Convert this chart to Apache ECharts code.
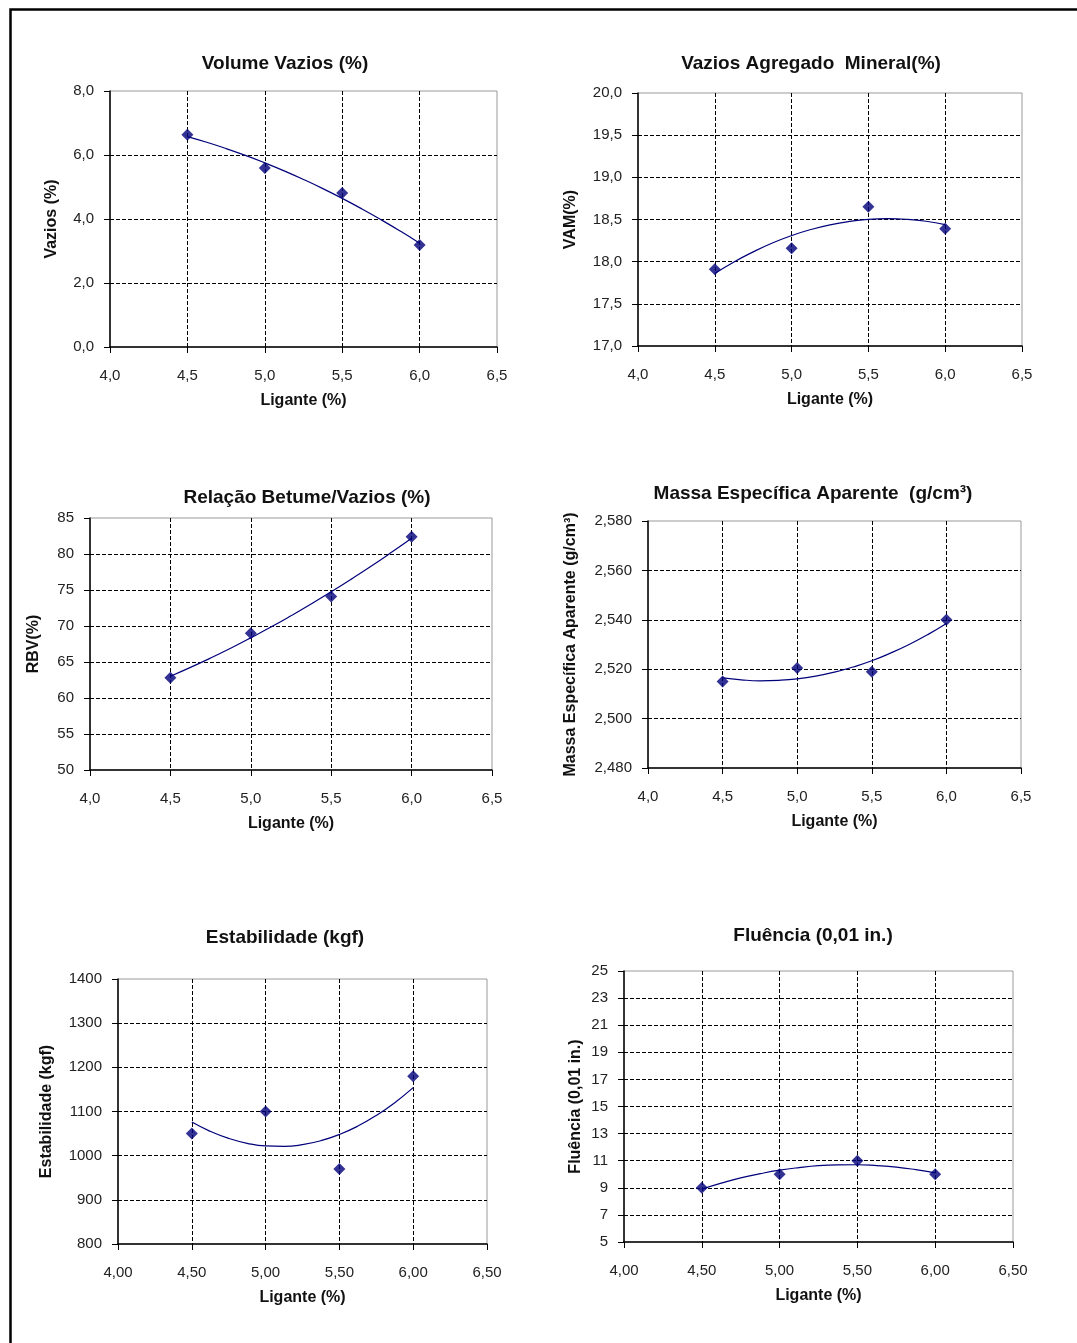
<!DOCTYPE html>
<html>
<head>
<meta charset="utf-8">
<script src="https://cdn.jsdelivr.net/npm/echarts@6/dist/echarts.min.js"></script>
<style>
	body{margin:0;background:#fff;}
	#main{width:1077px;height:1343px;}
</style>
</head>
<body>
<div id="main"></div>
<script>
	// teor de ligante (%) - eixo x de todos os graficos
	var ligante = [4.5, 5.0, 5.5, 6.0];
	// pontos da linha de tendencia
	var trendX = [4.5, 4.625, 4.75, 4.875, 5.0, 5.125, 5.25, 5.375, 5.5, 5.625, 5.75, 5.875, 6.0];

	// Volume Vazios
	var vazios = [6.63, 5.59, 4.81, 3.19];
	var vaziosTrend = [6.575, 6.397, 6.201, 5.987, 5.755, 5.505, 5.236, 4.950, 4.645, 4.322, 3.981, 3.622, 3.245];
	// Vazios Agregado Mineral
	var vam = [17.91, 18.16, 18.65, 18.39];
	var vamTrend = [17.861, 17.997, 18.116, 18.221, 18.309, 18.381, 18.437, 18.477, 18.502, 18.510, 18.502, 18.479, 18.440];
	// Relacao Betume/Vazios
	var rbv = [62.8, 69.0, 74.1, 82.4];
	var rbvTrend = [63.02, 64.25, 65.55, 66.92, 68.36, 69.85, 71.42, 73.05, 74.75, 76.51, 78.33, 80.23, 82.19];
	// Massa Especifica Aparente
	var massa = [2.515, 2.5205, 2.519, 2.540];
	var massaTrend = [2.5165, 2.5157, 2.5153, 2.5155, 2.5161, 2.5172, 2.5188, 2.5209, 2.5234, 2.5265, 2.5300, 2.5340, 2.5385];
	// Estabilidade
	var estab = [1050, 1100, 970, 1180];
	var estabTrend = [1076, 1055, 1039, 1028, 1022, 1021, 1025, 1034, 1048, 1067, 1091, 1120, 1154];
	// Fluencia
	var fluencia = [9, 10, 11, 10];
	var fluenciaTrend = [8.9, 9.34, 9.73, 10.04, 10.3, 10.49, 10.63, 10.69, 10.7, 10.64, 10.53, 10.34, 10.1];

	var panels = [
		{title:'Volume Vazios (%)', tx:280, ty:49, yName:'Vazios (%)', yGap:50,
		 grid:{left:110, top:91, width:387, height:256}, yMin:0, yMax:8, yInt:2, yDec:1, xDec:1,
		 pts:vazios, trend:vaziosTrend},
		{title:'Vazios Agregado  Mineral(%)', tx:806, ty:49, yName:'VAM(%)', yGap:59,
		 grid:{left:638, top:93, width:384, height:253}, yMin:17, yMax:20, yInt:0.5, yDec:1, xDec:1,
		 pts:vam, trend:vamTrend},
		{title:'Relação Betume/Vazios (%)', tx:302, ty:483, yName:'RBV(%)', yGap:48,
		 grid:{left:90, top:518, width:402, height:252}, yMin:50, yMax:85, yInt:5, yDec:0, xDec:1,
		 pts:rbv, trend:rbvTrend},
		{title:'Massa Específica Aparente  (g/cm³)', tx:808, ty:479, yName:'Massa Específica Aparente (g/cm³)', yGap:69,
		 grid:{left:648, top:521, width:373, height:247}, yMin:2.48, yMax:2.58, yInt:0.02, yDec:3, xDec:1,
		 pts:massa, trend:massaTrend},
		{title:'Estabilidade (kgf)', tx:280, ty:923, yName:'Estabilidade (kgf)', yGap:63,
		 grid:{left:118, top:979, width:369, height:265}, yMin:800, yMax:1400, yInt:100, yDec:0, xDec:2,
		 pts:estab, trend:estabTrend},
		{title:'Fluência (0,01 in.)', tx:808, ty:921, yName:'Fluência (0,01 in.)', yGap:40,
		 grid:{left:624, top:971, width:389, height:271}, yMin:5, yMax:25, yInt:2, yDec:0, xDec:2,
		 pts:fluencia, trend:fluenciaTrend}
	];

	function fmt(v, d){
		return v.toFixed(d).replace('.', ',');
	}

	var font = 'Liberation Sans, Arial, sans-serif';
	var navy = '#00007a';
	var option = {
		backgroundColor:'#fff',
		animation:false,
		title:[], grid:[], xAxis:[], yAxis:[], series:[],
		graphic:[{
			type:'rect', left:8, top:7,
			shape:{width:1100, height:1400},
			style:{fill:'none', stroke:'#000', lineWidth:2.5}
		}]
	};

	panels.forEach(function(p, i){
		option.title.push({
			text:p.title, left:p.tx, top:p.ty, textAlign:'center',
			textStyle:{fontFamily:font, fontSize:19, fontWeight:'bold', color:'#111'}
		});
		option.grid.push({
			left:p.grid.left, top:p.grid.top, width:p.grid.width, height:p.grid.height,
			show:true, borderColor:'#9a9a9a', borderWidth:1, backgroundColor:'transparent'
		});
		option.xAxis.push({
			type:'value', gridIndex:i, min:4, max:6.5, interval:0.5,
			name:'Ligante (%)', nameLocation:'middle', nameGap:46,
			nameTextStyle:{fontFamily:font, fontSize:16, fontWeight:'bold', color:'#111'},
			axisLine:{show:true, onZero:false, lineStyle:{color:'#000', width:1.5}},
			axisTick:{show:true, length:6, lineStyle:{color:'#000'}},
			axisLabel:{fontFamily:font, fontSize:15, color:'#222', margin:21,
				formatter:function(v){ return fmt(v, p.xDec); }},
			splitLine:{show:true, showMinLine:false, showMaxLine:false,
				lineStyle:{color:'#000', type:[4, 2], width:1}}
		});
		option.yAxis.push({
			type:'value', gridIndex:i, min:p.yMin, max:p.yMax, interval:p.yInt,
			name:p.yName, nameLocation:'middle', nameRotate:90, nameGap:p.yGap,
			nameTextStyle:{fontFamily:font, fontSize:16, fontWeight:'bold', color:'#111'},
			axisLine:{show:true, onZero:false, lineStyle:{color:'#000', width:1.5}},
			axisTick:{show:true, length:6, lineStyle:{color:'#000'}},
			axisLabel:{fontFamily:font, fontSize:15, color:'#222', margin:16,
				formatter:function(v){ return fmt(v, p.yDec); }},
			splitLine:{show:true, showMinLine:false, showMaxLine:false,
				lineStyle:{color:'#000', type:[4, 2], width:1}}
		});
		// linha de tendencia
		option.series.push({
			type:'line', xAxisIndex:i, yAxisIndex:i, smooth:true, symbol:'none',
			lineStyle:{color:navy, width:1.2},
			data:trendX.map(function(x, k){ return [x, p.trend[k]]; })
		});
		// pontos medidos
		option.series.push({
			type:'scatter', xAxisIndex:i, yAxisIndex:i, symbol:'diamond', symbolSize:12,
			itemStyle:{color:navy},
			data:ligante.map(function(x, k){ return [x, p.pts[k]]; })
		});
	});

	var chart = echarts.init(document.getElementById('main'));
	chart.setOption(option);
</script>
</body>
</html>
